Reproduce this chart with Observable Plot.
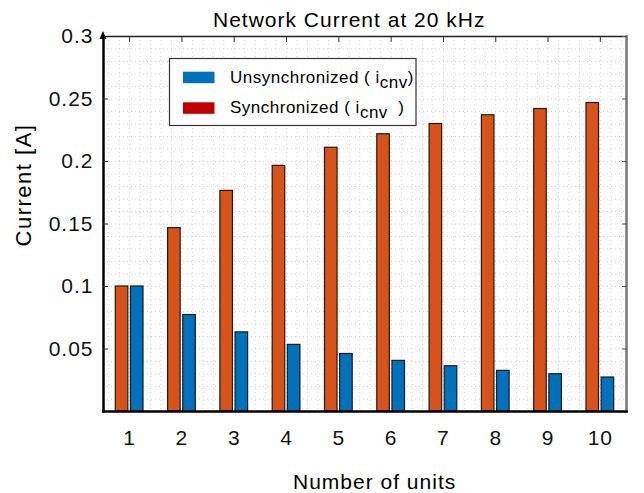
<!DOCTYPE html>
<html>
<head>
<meta charset="utf-8">
<script src="https://cdn.jsdelivr.net/npm/d3@7"></script>
<script src="https://cdn.jsdelivr.net/npm/@observablehq/plot@0.6"></script>
<style>
html, body { margin: 0; padding: 0; background: #fff; }
#chart { position: relative; width: 644px; height: 493px; }
</style>
</head>
<body>
<div id="chart"></div>
<script>
// ---- data ----
const units = [1, 2, 3, 4, 5, 6, 7, 8, 9, 10];
const unsyncCurrent = [0.100, 0.1467, 0.1765, 0.1965, 0.211, 0.2218, 0.230, 0.237, 0.242, 0.2468];
const syncCurrent   = [0.100, 0.0772, 0.0633, 0.0533, 0.046, 0.0405, 0.0362, 0.0325, 0.0298, 0.0272];
const yTickValues = [0.05, 0.1, 0.15, 0.2, 0.25, 0.3];
const yTickLabels = ["0.05", "0.1", "0.15", "0.2", "0.25", "0.3"];
const xTickLabels = ["1", "2", "3", "4", "5", "6", "7", "8", "9", "10"];
const titleText = "Network Current at 20 kHz";
const xLabelText = "Number of units";
const yLabelText = "Current [A]";
const legendNames = ["Unsynchronized ( i", "Synchronized ( i"];
const legendSubs = ["cnv", "cnv"];
const legendTails = [")", "  )"];
const legendColors = ["#0072BD", "#C00000"];

const rows = units.map((u, i) => ({unit: u, unsync: unsyncCurrent[i], sync: syncCurrent[i]}));

const FONT = "'Liberation Sans', Arial, Helvetica, sans-serif";
const HALF = 0.265, GAP = 0.025;
const minorY = d3.range(1, 30).map(i => i / 100);
const minorX = d3.range(3, 53).map(i => i / 5);

const plot = Plot.plot({
  width: 644,
  height: 493,
  marginTop: 36,
  marginBottom: 82,
  marginLeft: 103,
  marginRight: 18,
  style: {fontFamily: FONT, fontSize: "21px", color: "#111", background: "transparent", letterSpacing: "1px"},
  x: {type: "linear", domain: [0.5, 10.5]},
  y: {type: "linear", domain: [0, 0.3]},
  marks: [
    Plot.gridY({ticks: minorY, stroke: "#d0d0d0", strokeOpacity: 1, strokeDasharray: "1,3"}),
    Plot.gridX({ticks: minorX, stroke: "#d0d0d0", strokeOpacity: 1, strokeDasharray: "1,3"}),
    Plot.rectY(rows, {x1: d => d.unit - HALF, x2: d => d.unit - GAP, y1: 0, y2: "unsync", fill: "#D95319", stroke: "#1b1b1b", strokeWidth: 1.2}),
    Plot.rectY(rows, {x1: d => d.unit + GAP, x2: d => d.unit + HALF, y1: 0, y2: "sync", fill: "#0072BD", stroke: "#1b1b1b", strokeWidth: 1.2}),
    Plot.frame({anchor: "top", stroke: "#222", strokeWidth: 1.5}),
    Plot.frame({anchor: "right", stroke: "#777", strokeWidth: 2.5}),
    Plot.frame({anchor: "left", stroke: "#000", strokeWidth: 2.5}),
    Plot.frame({anchor: "bottom", stroke: "#000", strokeWidth: 2.5}),
    Plot.axisY({anchor: "left", ticks: yTickValues, tickFormat: d => yTickLabels[yTickValues.indexOf(d)], tickSize: 0, tickPadding: 10, label: null}),
    Plot.axisY({anchor: "left", ticks: yTickValues, text: null, tickSize: -5, stroke: "#333", label: null}),
    Plot.axisY({anchor: "right", ticks: yTickValues, text: null, tickSize: -5, stroke: "#555", label: null}),
    Plot.axisX({anchor: "bottom", ticks: units, tickFormat: d => xTickLabels[units.indexOf(d)], tickSize: 0, tickPadding: 19, label: null}),
    Plot.axisX({anchor: "top", ticks: units, text: null, tickSize: -5, stroke: "#333", label: null})
  ]
});

document.getElementById("chart").appendChild(plot);

// ---- decorations: title, axis labels, legend, axis arrow ----
const svg = d3.select(plot);
const xs = plot.scale("x"), ys = plot.scale("y");
const axX = xs.apply(0.5), axTop = ys.apply(0.3);

svg.append("path")
  .attr("d", `M${axX},${axTop - 5}L${axX - 3.5},${axTop + 3}L${axX + 3.5},${axTop + 3}Z`)
  .attr("fill", "#000");

svg.append("text")
  .attr("x", 213).attr("y", 27)
  .attr("text-anchor", "start")
  .attr("font-family", FONT).attr("font-size", 21).attr("letter-spacing", "1px")
  .attr("fill", "#000")
  .text(titleText);

svg.append("text")
  .attr("x", 293).attr("y", 489)
  .attr("text-anchor", "start")
  .attr("font-family", FONT).attr("font-size", 21).attr("letter-spacing", "1px")
  .attr("fill", "#000")
  .text(xLabelText);

svg.append("text")
  .attr("transform", "translate(31,185) rotate(-90)")
  .attr("text-anchor", "middle")
  .attr("font-family", FONT).attr("font-size", 22).attr("letter-spacing", "1.5px")
  .attr("fill", "#000")
  .text(yLabelText);

const lg = svg.append("g");
lg.append("rect")
  .attr("x", 169.5).attr("y", 58.5).attr("width", 246.5).attr("height", 67)
  .attr("fill", "#fff").attr("stroke", "#333").attr("stroke-width", 1.2);
legendNames.forEach((name, i) => {
  const by = 82.7 + i * 30.6;
  lg.append("rect")
    .attr("x", 183).attr("y", by - 11).attr("width", 31.5).attr("height", 11.5)
    .attr("fill", legendColors[i]);
  const t = lg.append("text")
    .attr("x", 230).attr("y", by)
    .attr("text-anchor", "start")
    .attr("font-family", FONT).attr("font-size", 17).attr("letter-spacing", "0.5px")
    .attr("fill", "#000")
    .style("white-space", "pre");
  t.append("tspan").text(name);
  t.append("tspan").attr("dy", 5).text(legendSubs[i]);
  t.append("tspan").attr("dy", -5).text(legendTails[i]);
});
</script>
</body>
</html>
